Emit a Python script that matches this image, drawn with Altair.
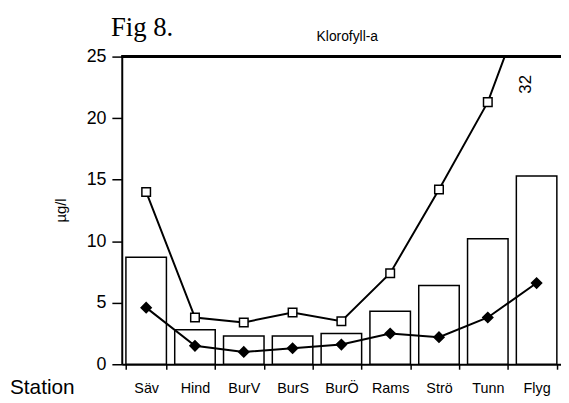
import altair as alt
import pandas as pd

stations = ["Säv", "Hind", "BurV", "BurS", "BurÖ", "Rams", "Strö", "Tunn", "Flyg"]
mean_vals = [8.7, 2.8, 2.3, 2.3, 2.5, 4.3, 6.4, 10.2, 15.3]
max_vals = [14.0, 3.8, 3.4, 4.2, 3.5, 7.4, 14.2, 21.3, 32.0]
min_vals = [4.6, 1.5, 1.0, 1.3, 1.6, 2.5, 2.2, 3.8, 6.6]
off_scale_station = ["Flyg"]
off_scale_label = ["32"]
y_ticks = [0, 2.5, 5, 7.5, 10, 12.5, 15, 17.5, 20, 22.5, 25]

df = pd.DataFrame({"station": stations, "mean": mean_vals, "max": max_vals, "min": min_vals})
off_df = pd.DataFrame({"station": off_scale_station, "label": off_scale_label})

SANS = "Liberation Sans"
SERIF = "Liberation Serif"

xscale = alt.Scale(domain=stations, paddingInner=0.17, paddingOuter=0.085)
yscale = alt.Scale(domain=[0, 25], nice=False, zero=True)

x_enc = alt.X(
    "station:N", scale=xscale, sort=None,
    axis=alt.Axis(
        title=None, tickBand="extent", labelAngle=0, labelFont=SANS,
        labelFontSize=14.5, labelPadding=13, tickSize=5, tickWidth=1.5,
        domainWidth=2, domainColor="black", tickColor="black", labelColor="black",
    ),
)
y_enc = alt.Y(
    "mean:Q", scale=yscale,
    axis=alt.Axis(
        title="µg/l", values=y_ticks,
        labelExpr="datum.value % 5 === 0 ? datum.label : ''",
        tickSize=alt.condition("datum.value % 5 === 0", alt.value(10), alt.value(5)),
        tickWidth=1.5, tickColor="black", domainWidth=2, domainColor="black",
        labelFont=SANS, labelFontSize=18, labelColor="black", labelPadding=6,
        titleFont=SANS, titleFontSize=15, titleFontWeight="normal", titleColor="black",
        titleX=-62, titleY=155, titleBaseline="middle", grid=False,
    ),
)

base = alt.Chart(df)

bars = base.mark_bar(fill="white", stroke="black", strokeWidth=1.5).encode(x=x_enc, y=y_enc)

max_line = base.mark_line(color="black", strokeWidth=2, clip=True).encode(
    x=alt.X("station:N", scale=xscale, sort=None), y=alt.Y("max:Q", scale=yscale))
max_pts = base.mark_point(shape="square", filled=True, fill="white", stroke="black",
                          strokeWidth=1.5, size=75, opacity=1, clip=True).encode(
    x=alt.X("station:N", scale=xscale, sort=None), y=alt.Y("max:Q", scale=yscale))

min_line = base.mark_line(color="black", strokeWidth=2, clip=True).encode(
    x=alt.X("station:N", scale=xscale, sort=None), y=alt.Y("min:Q", scale=yscale))
min_pts = base.mark_point(shape="diamond", filled=True, fill="black", stroke="black",
                          size=90, opacity=1, clip=True).encode(
    x=alt.X("station:N", scale=xscale, sort=None), y=alt.Y("min:Q", scale=yscale))

top_rule = base.mark_rule(color="black", strokeWidth=2.5).encode(
    y=alt.datum(25, scale=yscale), x=alt.value(0), x2=alt.value(446))

off_text = alt.Chart(off_df).mark_text(
    font=SANS, fontSize=17, angle=270, align="center", baseline="middle", color="black"
).encode(x=alt.X("station:N", scale=xscale, sort=None), xOffset=alt.value(10),
         y=alt.value(28), text="label:N")

fig_df = pd.DataFrame({"t": ["Fig 8."]})
fig_text = alt.Chart(fig_df).mark_text(
    font=SERIF, fontSize=27, align="left", baseline="alphabetic", color="black"
).encode(x=alt.value(-11), y=alt.value(-21), text="t:N")

title_df = pd.DataFrame({"t": ["Klorofyll-a"]})
title_text = alt.Chart(title_df).mark_text(
    font=SANS, fontSize=14, align="center", baseline="alphabetic", color="black"
).encode(x=alt.value(228), y=alt.value(-16), text="t:N")

st_df = pd.DataFrame({"t": ["Station"]})
st_text = alt.Chart(st_df).mark_text(
    font=SANS, fontSize=21, align="left", baseline="alphabetic", color="black"
).encode(x=alt.value(-113), y=alt.value(341), text="t:N")

chart = alt.layer(
    bars, max_line, max_pts, min_line, min_pts, top_rule, off_text, fig_text, title_text, st_text
).properties(
    width=444, height=311,
    autosize=alt.AutoSizeParams(type="none"),
    padding={"left": 115, "top": 47, "right": 0, "bottom": 34},
).configure_view(stroke=None).configure(background="white")

chart.save("out.html", embed_options={"renderer": "svg", "actions": False})
